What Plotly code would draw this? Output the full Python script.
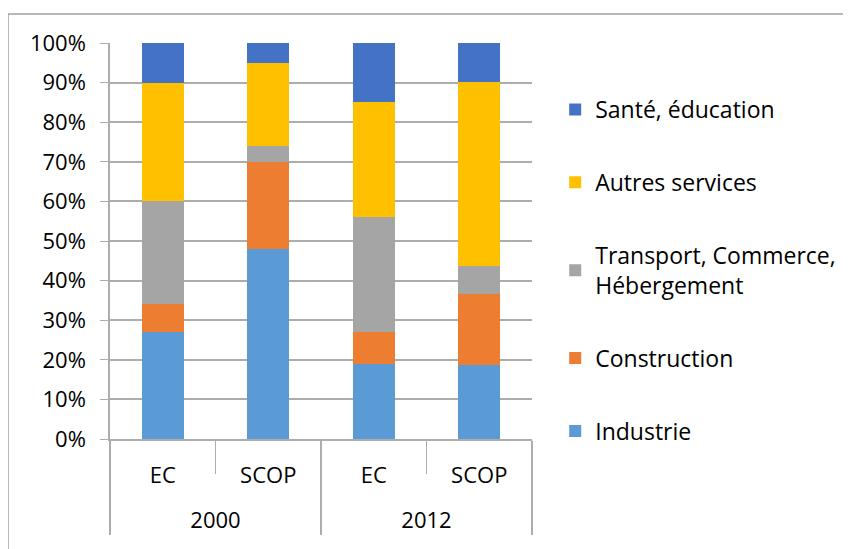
import plotly.graph_objects as go

years = ["2000", "2000", "2012", "2012"]
groups = ["EC", "SCOP", "EC", "SCOP"]

industrie = [27, 48, 19, 18.7]
construction = [7, 22, 8, 17.8]
transport = [26, 4, 29, 7.1]
autres = [30, 21, 29, 46.6]
sante = [10, 5, 15, 9.8]

series = [
    ("Industrie", industrie, "#5B9BD5"),
    ("Construction", construction, "#ED7D31"),
    ("Transport, Commerce,<br>Hébergement", transport, "#A5A5A5"),
    ("Autres services", autres, "#FFC000"),
    ("Santé, éducation", sante, "#4472C4"),
]

font = dict(family="Open Sans, sans-serif", size=22, color="#000000")
grid = "#ADADAD"

# extra blank line under the inner labels to space the year row like Excel
inner = [g + "<br>&nbsp;" for g in groups]

fig = go.Figure()
for i, (name, vals, color) in enumerate(series):
    fig.add_trace(go.Bar(
        x=[years, inner], y=vals, name=name, marker_color=color,
        marker_line_width=0, legendgroup=str(i), legendrank=1000 - i,
    ))

# page has an 8px body margin, so the figure sits 8px right/down
fig.update_layout(
    barmode="stack",
    bargap=0.6,
    width=851, height=549,
    margin=dict(l=102, r=327, t=35, b=118),
    paper_bgcolor="white", plot_bgcolor="white",
    font=font,
    legend=dict(
        x=1.055, xanchor="left", y=(439 - 88) / 396, yanchor="top",
        traceorder="grouped", tracegroupgap=40, maxheight=1,
        font=dict(size=23), bgcolor="rgba(0,0,0,0)",
    ),
    showlegend=True,
)
fig.update_yaxes(
    range=[0, 100], dtick=10, ticksuffix="%", showgrid=True, gridcolor=grid,
    gridwidth=1.5, showline=True, linecolor=grid, linewidth=1.5,
    ticks="outside", ticklen=8, tickcolor=grid, zeroline=False,
    ticklabelstandoff=10,
)
fig.update_xaxes(
    showline=True, linecolor=grid, linewidth=1.5, ticks="outside",
    tickson="boundaries", ticklen=33, tickcolor=grid,
    showdividers=True, dividercolor=grid, dividerwidth=1.5,
    ticklabelstandoff=16,
)

# chart frame (top and left edges visible)
fig.add_shape(type="line", xref="paper", yref="paper",
              x0=(8 - 110) / 422, x1=(860 - 110) / 422,
              y0=(439 - 14) / 396, y1=(439 - 14) / 396,
              line=dict(color="#A0A0A0", width=1.5))
fig.add_shape(type="line", xref="paper", yref="paper",
              x0=(8 - 110) / 422, x1=(8 - 110) / 422,
              y0=(439 - 14) / 396, y1=(439 - 560) / 396,
              line=dict(color="#A0A0A0", width=1.5))

fig.write_html("out.html")
